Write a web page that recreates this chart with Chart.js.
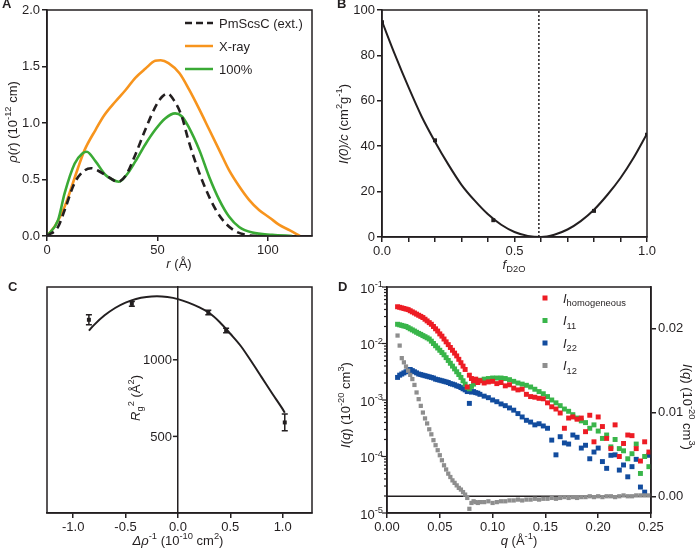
<!DOCTYPE html>
<html>
<head>
<meta charset="utf-8">
<script src="https://cdn.jsdelivr.net/npm/chart.js@4.4.0/dist/chart.umd.min.js"></script>
<style>
body { margin: 0; background: #fff; }
#wrap { position: relative; width: 700px; height: 554px; overflow: hidden; background: #fff; }
canvas { position: absolute; }
</style>
</head>
<body>
<div id="wrap">
<canvas id="chartA" width="350" height="277" style="left:0;top:0"></canvas>
<canvas id="chartB" width="375" height="277" style="left:325px;top:0"></canvas>
<canvas id="chartC" width="350" height="277" style="left:0;top:277px"></canvas>
<canvas id="chartD" width="375" height="277" style="left:325px;top:277px"></canvas>
</div>
<script>
// ---- panel A: p(r) distributions ----
const rPm = [0, 5, 8, 12.5, 17, 20, 23, 28, 32, 35.5, 40, 44.5, 49, 52, 54.5, 57.5, 61, 64, 68, 72, 76.5, 81, 85.5, 90, 95];
const pPm = [0, 0.08, 0.23, 0.47, 0.58, 0.60, 0.58, 0.52, 0.48, 0.53, 0.72, 0.94, 1.14, 1.23, 1.26, 1.20, 1.06, 0.85, 0.61, 0.41, 0.23, 0.11, 0.04, 0.01, 0];
const rXray = [0, 4, 8, 14, 17, 22, 26, 31, 35.5, 40, 44.5, 49, 51.5, 55, 60, 64.5, 69, 73.5, 78, 82.5, 87, 91.5, 96, 101, 105, 110, 114.5];
const pXray = [0, 0.1, 0.26, 0.60, 0.76, 0.94, 1.07, 1.19, 1.29, 1.40, 1.48, 1.55, 1.555, 1.53, 1.44, 1.29, 1.12, 0.94, 0.76, 0.58, 0.44, 0.32, 0.23, 0.16, 0.10, 0.05, 0];
const r100 = [0, 5, 8, 12.5, 16, 18, 22, 26.5, 29.5, 32.5, 36, 40, 44.5, 49, 53.5, 58, 61, 64, 69, 73.5, 78, 82.5, 87, 93, 102, 111];
const p100 = [0, 0.14, 0.38, 0.64, 0.73, 0.746, 0.66, 0.54, 0.50, 0.48, 0.54, 0.66, 0.81, 0.94, 1.04, 1.085, 1.06, 0.97, 0.76, 0.52, 0.32, 0.17, 0.08, 0.03, 0.01, 0];
const legendA = ['PmScsC (ext.)', 'X-ray', '100%'];

// ---- panel B: contrast match ----
const fFit = [0, 0.05, 0.1, 0.15, 0.2, 0.25, 0.3, 0.35, 0.4, 0.45, 0.5, 0.55, 0.6, 0.65, 0.7, 0.75, 0.8, 0.85, 0.9, 0.95, 1.0];
const iFit = [95, 80, 66, 53, 42, 32, 23, 16, 10, 5.4, 2.2, 0.5, 0, 1, 3.3, 7, 12, 18.5, 26, 35, 45.5];
const fPts = [0, 0.2, 0.42, 0.8, 1.0];
const iPts = [94.6, 42.6, 7.4, 11.5, 45.1];
const fMatchX = [0.592, 0.592];
const fMatchY = [0, 100];

// ---- panel C: Stuhrmann plot ----
const dRho = [-0.85, -0.44, 0.29, 0.46, 1.02];
const rg2 = [1261, 1365, 1309, 1191, 591];
const rg2Err = [33, 15, 15, 15, 55];
const dFit = [-0.85, -0.8, -0.7, -0.6, -0.5, -0.4, -0.3, -0.2, -0.1, 0, 0.1, 0.2, 0.3, 0.4, 0.5, 0.6, 0.7, 0.8, 0.9, 1.0, 1.02];
const rgFit = [1190, 1228, 1290, 1338, 1373, 1397, 1410, 1414, 1409, 1396, 1373, 1343, 1305, 1245, 1170, 1090, 990, 885, 780, 678, 655];
const rgTicks = [500, 1000];

// ---- panel D: decomposed scattering ----
const qD = [0.010, 0.012, 0.014, 0.016, 0.018, 0.020, 0.022, 0.024, 0.026, 0.028,
  0.030, 0.032, 0.034, 0.036, 0.038, 0.040, 0.042, 0.044, 0.046, 0.048,
  0.050, 0.052, 0.054, 0.056, 0.058, 0.060, 0.062, 0.064, 0.066, 0.068,
  0.070, 0.072, 0.074, 0.076, 0.078, 0.080, 0.082, 0.084, 0.086, 0.088,
  0.092, 0.096, 0.100, 0.104, 0.108, 0.112, 0.116, 0.120, 0.124, 0.128,
  0.132, 0.136, 0.140, 0.144, 0.148, 0.152, 0.156, 0.160, 0.164, 0.168,
  0.172, 0.176, 0.180, 0.184, 0.188, 0.192, 0.196, 0.200, 0.204, 0.208,
  0.212, 0.216, 0.220, 0.224, 0.228, 0.232, 0.236, 0.240, 0.244, 0.248];
const iHom = [0.0447, 0.0437, 0.0427, 0.0417, 0.0407, 0.0398, 0.0380, 0.0363, 0.0347, 0.0331,
  0.0316, 0.0302, 0.0288, 0.0269, 0.0251, 0.0234, 0.0219, 0.0200, 0.0182, 0.0166,
  0.0148, 0.0135, 0.0120, 0.0107, 0.00955, 0.00851, 0.00759, 0.00676, 0.00603, 0.00525,
  0.00457, 0.00398, 0.00347, 0.00170, 0.00275, 0.00240, 0.00219, 0.00234, 0.00204, 0.00219,
  0.00200, 0.00209, 0.00214, 0.00195, 0.00204, 0.00178, 0.00186, 0.00162, 0.00151, 0.00155,
  0.00126, 0.00115, 0.00112, 0.00107, 0.00105, 0.000891, 0.000759, 0.000692, 0.000589, 0.000316,
  0.000479, 0.000501, 0.000457, 0.000479, 0.000275, 0.000537, 0.000182, 0.000501, 0.000339, 0.000209,
  0.000138, 0.000363, 0.000100, 0.000170, 0.000240, 0.000234, 0.000138, 0.0000832, 0.000182, 0.000120];
const i11 = [0.0219, 0.0214, 0.0209, 0.0204, 0.0200, 0.0191, 0.0182, 0.0174, 0.0166, 0.0158,
  0.0151, 0.0145, 0.0138, 0.0132, 0.0126, 0.0120, 0.0110, 0.0100, 0.00912, 0.00832,
  0.00759, 0.00692, 0.00631, 0.00562, 0.00501, 0.00447, 0.00398, 0.00355, 0.00316, 0.00282,
  0.00251, 0.00219, 0.00191, 0.00166, 0.00158, 0.00174, 0.00191, 0.00209, 0.00214, 0.00224,
  0.00234, 0.00240, 0.00245, 0.00245, 0.00245, 0.00240, 0.00229, 0.00214, 0.00200, 0.00191,
  0.00182, 0.00170, 0.00155, 0.00141, 0.00129, 0.00115, 0.00100, 0.000891, 0.000794, 0.000692,
  0.000631, 0.000550, 0.000479, 0.000427, 0.000398, 0.000316, 0.000363, 0.000282, 0.000209, 0.000240,
  0.000148, 0.000200, 0.000138, 0.000126, 0.0000912, 0.000112, 0.000166, 0.0000501, 0.000100, 0.0000661];
const i22 = [0.00251, 0.00275, 0.00288, 0.00302, 0.00316, 0.00331, 0.00347, 0.00331, 0.00316, 0.00302,
  0.00288, 0.00282, 0.00275, 0.00269, 0.00263, 0.00257, 0.00251, 0.00245, 0.00234, 0.00229,
  0.00224, 0.00219, 0.00214, 0.00209, 0.00204, 0.00195, 0.00191, 0.00186, 0.00178, 0.00174,
  0.00166, 0.00158, 0.00151, 0.00141, 0.000871, 0.00138, 0.00141, 0.00135, 0.00132, 0.00126,
  0.00117, 0.00110, 0.00100, 0.000933, 0.000851, 0.000794, 0.000724, 0.000661, 0.000575, 0.000501,
  0.000437, 0.000407, 0.000363, 0.000380, 0.000347, 0.000316, 0.000195, 0.000107, 0.000224, 0.000174,
  0.000166, 0.000240, 0.000219, 0.000141, 0.000158, 0.0000912, 0.000120, 0.000141, 0.0000813, 0.0000617,
  0.000105, 0.000107, 0.0000575, 0.0000708, 0.0000437, 0.0000661, 0.0000891, 0.0000288, 0.0000234, 0.000105];
// I12 is read on the right-hand linear axis
const i12 = [0.0192, 0.0180, 0.0165, 0.0160, 0.0155, 0.0150, 0.0145, 0.0140, 0.0133, 0.0124,
  0.0116, 0.0108, 0.0100, 0.0093, 0.0087, 0.0080, 0.0074, 0.0067, 0.0061, 0.0055,
  0.0049, 0.0043, 0.0037, 0.0032, 0.0027, 0.0023, 0.0019, 0.0016, 0.0013, 0.0010,
  0.0008, 0.0005, 0.0002, -0.0002, -0.0015, -0.0008, -0.0006, -0.0007, -0.0008, -0.0007,
  -0.0007, -0.0006, -0.0008, -0.0007, -0.0006, -0.0006, -0.0005, -0.0005, -0.0004, -0.0005,
  -0.0004, -0.0004, -0.0003, -0.0004, -0.0003, -0.0003, -0.0002, -0.0003, -0.0002, -0.0001,
  -0.0002, -0.0001, -0.0002, -0.0001, -0.0001, 0.0000, -0.0001, 0.0000, -0.0001, 0.0000,
  0.0000, -0.0001, 0.0000, 0.0001, 0.0000, 0.0000, 0.0001, 0.0001, 0.0001, 0.0001];
const zeroX = [0, 0.25];
const zeroY = [0, 0];
const logTicks = [1e-5, 1e-4, 1e-3, 1e-2, 1e-1];
const logTickExp = ['-5', '-4', '-3', '-2', '-1'];

const FONT = '"Liberation Sans", Arial, Helvetica, sans-serif';
const INK = '#231f20';
const ORANGE = '#f7941d';
const GREEN_LINE = '#3aaa35';
const RED = '#ed1c24';
const GREEN = '#39b54a';
const BLUE = '#124c9e';
const GRAY = '#8e8e8e';

Chart.defaults.font.family = FONT;
Chart.defaults.font.size = 13;
Chart.defaults.color = INK;
Chart.defaults.animation = false;
Chart.defaults.plugins.legend.display = false;
Chart.defaults.plugins.tooltip.enabled = false;

function pts(xs, ys) {
    return xs.map(function(x, i) { return {x: x, y: ys[i]}; });
}

// draws text made of pieces: style 'i' italic, '^' superscript, '_' subscript, 'b' bold
function drawRich(ctx, parts, x, y, opts) {
    opts = opts || {};
    const size = opts.size || 13;
    ctx.save();
    ctx.translate(x, y);
    ctx.rotate(opts.rotate || 0);
    ctx.fillStyle = INK;
    ctx.textBaseline = 'alphabetic';
    ctx.textAlign = 'left';
    let total = 0;
    const segs = parts.map(function(p) {
        const st = p[1] || '';
        const small = st.indexOf('^') >= 0 || st.indexOf('_') >= 0;
        const fs = small ? size * 0.72 : size;
        const font = (st.indexOf('i') >= 0 ? 'italic ' : '') + (st.indexOf('b') >= 0 ? 'bold ' : '') + fs + 'px ' + FONT;
        ctx.font = font;
        const w = ctx.measureText(p[0]).width;
        const dy = st.indexOf('^') >= 0 ? -size * 0.4 : (st.indexOf('_') >= 0 ? size * 0.28 : 0);
        total += w;
        return {t: p[0], font: font, w: w, dy: dy};
    });
    let cx = opts.align === 'right' ? -total : (opts.align === 'left' ? 0 : -total / 2);
    const base = size * 0.36;
    segs.forEach(function(s) {
        ctx.font = s.font;
        ctx.fillText(s.t, cx, base + s.dy);
        cx += s.w;
    });
    ctx.restore();
}

function drawBox(ctx, a) {
    ctx.save();
    ctx.strokeStyle = INK;
    ctx.lineWidth = 1.5;
    ctx.strokeRect(a.left, a.top, a.right - a.left, a.bottom - a.top);
    ctx.restore();
}

function letter(ctx, t, x, y) {
    ctx.save();
    ctx.font = 'bold 13px ' + FONT;
    ctx.fillStyle = INK;
    ctx.textBaseline = 'alphabetic';
    ctx.fillText(t, x, y);
    ctx.restore();
}

function linAxis(min, max, step, fmt, extra) {
    const o = {
        type: 'linear',
        min: min,
        max: max,
        grid: {display: true, drawOnChartArea: false, drawTicks: true, tickLength: 5, color: INK, lineWidth: 1.5},
        border: {display: true, color: INK, width: 1.5},
        ticks: {stepSize: step, includeBounds: false, autoSkip: false, maxRotation: 0, padding: 2, color: INK, font: {size: 13},
            callback: fmt}
    };
    return Object.assign(o, extra || {});
}

function fixed(n) {
    return function(v) { return Math.abs(v) < 1e-9 ? (0).toFixed(n) : v.toFixed(n); };
}

// ---------- A ----------
const plugA = {
    id: 'plugA',
    afterDraw: function(chart) {
        const ctx = chart.ctx;
        drawBox(ctx, chart.chartArea);
        drawRich(ctx, [['ρ', 'i'], ['(', ''], ['r', 'i'], [') (10', ''], ['-12', '^'], [' cm)', '']], 12, 122, {rotate: -Math.PI / 2});
        drawRich(ctx, [['r', 'i'], [' (Å)', '']], 179, 263);
        const cols = [INK, ORANGE, GREEN_LINE];
        const rows = [23, 46, 69];
        ctx.save();
        legendA.forEach(function(name, i) {
            ctx.strokeStyle = cols[i];
            ctx.lineWidth = 2.5;
            ctx.setLineDash(i === 0 ? [7, 4] : []);
            ctx.beginPath();
            ctx.moveTo(185, rows[i]);
            ctx.lineTo(213, rows[i]);
            ctx.stroke();
            drawRich(ctx, [[name, '']], 219, rows[i], {align: 'left'});
        });
        ctx.restore();
        letter(ctx, 'A', 2, 8);
    }
};

new Chart(document.getElementById('chartA'), {
    type: 'scatter',
    data: {
        datasets: [
            {data: pts(rPm, pPm), showLine: true, borderColor: INK, borderWidth: 2.6, borderDash: [8, 5], pointRadius: 0, cubicInterpolationMode: 'monotone', order: 0},
            {data: pts(rXray, pXray), showLine: true, borderColor: ORANGE, borderWidth: 2.6, pointRadius: 0, cubicInterpolationMode: 'monotone', order: 2},
            {data: pts(r100, p100), showLine: true, borderColor: GREEN_LINE, borderWidth: 2.6, pointRadius: 0, cubicInterpolationMode: 'monotone', order: 1}
        ]
    },
    options: {
        responsive: false,
        layout: {padding: {top: 10, right: 38, left: 0, bottom: 0}},
        scales: {
            x: linAxis(0, 120, 50, fixed(0), {afterFit: function(s) { s.height = 41; }}),
            y: linAxis(0, 2.0, 0.5, fixed(1), {afterFit: function(s) { s.width = 47; }})
        }
    },
    plugins: [plugA]
});

// ---------- B ----------
const plugB = {
    id: 'plugB',
    afterDraw: function(chart) {
        const ctx = chart.ctx;
        drawBox(ctx, chart.chartArea);
        drawRich(ctx, [['I(0)/c', 'i'], [' (cm', ''], ['2', '^'], ['g', ''], ['-1', '^'], [')', '']], 18, 124, {rotate: -Math.PI / 2});
        drawRich(ctx, [['f', 'i'], ['D2O', '_']], 189, 264);
        letter(ctx, 'B', 12, 8);
    }
};

new Chart(document.getElementById('chartB'), {
    type: 'scatter',
    data: {
        datasets: [
            {data: pts(fMatchX, fMatchY), showLine: true, borderColor: INK, borderWidth: 1.5, borderDash: [2, 2], pointRadius: 0, order: 2},
            {data: pts(fFit, iFit), showLine: true, borderColor: INK, borderWidth: 2, pointRadius: 0, cubicInterpolationMode: 'monotone', order: 1},
            {data: pts(fPts, iPts), showLine: false, pointStyle: 'rect', pointRadius: 2.8, pointBorderWidth: 0, pointBackgroundColor: INK, order: 0}
        ]
    },
    options: {
        responsive: false,
        layout: {padding: {top: 10, right: 53, left: 0, bottom: 0}},
        scales: {
            x: linAxis(0, 1, 0.1, function(v) {
                return Math.abs(v * 2 - Math.round(v * 2)) < 1e-6 ? v.toFixed(1) : '';
            }, {afterFit: function(s) { s.height = 40; }}),
            y: linAxis(0, 100, 20, fixed(0), {afterFit: function(s) { s.width = 57; }})
        }
    },
    plugins: [plugB]
});

// ---------- C ----------
const plugC = {
    id: 'plugC',
    afterDatasetsDraw: function(chart) {
        const ctx = chart.ctx;
        const sx = chart.scales.x, sy = chart.scales.y;
        ctx.save();
        ctx.strokeStyle = INK;
        ctx.lineWidth = 1.5;
        dRho.forEach(function(d, i) {
            const px = sx.getPixelForValue(d);
            const y1 = sy.getPixelForValue(rg2[i] - rg2Err[i]);
            const y2 = sy.getPixelForValue(rg2[i] + rg2Err[i]);
            ctx.beginPath();
            ctx.moveTo(px, y1); ctx.lineTo(px, y2);
            ctx.moveTo(px - 3, y1); ctx.lineTo(px + 3, y1);
            ctx.moveTo(px - 3, y2); ctx.lineTo(px + 3, y2);
            ctx.stroke();
        });
        ctx.restore();
    },
    afterDraw: function(chart) {
        const ctx = chart.ctx;
        const sx = chart.scales.x, sy = chart.scales.y;
        drawBox(ctx, chart.chartArea);
        // ticks and labels of the y axis that sits at x = 0
        const x0 = sx.getPixelForValue(0);
        ctx.save();
        ctx.strokeStyle = INK;
        ctx.lineWidth = 1.5;
        rgTicks.forEach(function(v) {
            const py = sy.getPixelForValue(v);
            ctx.beginPath();
            ctx.moveTo(x0 - 5, py);
            ctx.lineTo(x0, py);
            ctx.stroke();
            drawRich(ctx, [[String(v), '']], x0 - 6, py, {align: 'right'});
        });
        ctx.restore();
        drawRich(ctx, [['R', 'i'], ['g', '_'], ['2', '^'], [' (Å', ''], ['2', '^'], [')', '']], 135, 121, {rotate: -Math.PI / 2});
        drawRich(ctx, [['Δρ', 'i'], ['-1', '^'], [' (10', ''], ['-10', '^'], [' cm', ''], ['2', '^'], [')', '']], 178, 263);
        letter(ctx, 'C', 8, 14);
    }
};

new Chart(document.getElementById('chartC'), {
    type: 'scatter',
    data: {
        datasets: [
            {data: pts(dFit, rgFit), showLine: true, borderColor: INK, borderWidth: 2, pointRadius: 0, cubicInterpolationMode: 'monotone', order: 1},
            {data: pts(dRho, rg2), showLine: false, pointStyle: 'rect', pointRadius: 2.8, pointBorderWidth: 0, pointBackgroundColor: INK, order: 0}
        ]
    },
    options: {
        responsive: false,
        layout: {padding: {top: 10, right: 38, left: 47, bottom: 0}},
        scales: {
            x: linAxis(-1.25, 1.28, 0.5, fixed(1), {afterFit: function(s) { s.height = 41; }}),
            y: {
                type: 'linear', min: 0, max: 1475, position: {x: 0},
                grid: {display: false},
                border: {display: true, color: INK, width: 1.5},
                ticks: {display: false}
            }
        }
    },
    plugins: [plugC]
});

// ---------- D ----------
const legendD = [
    {sub: 'homogeneous', color: RED},
    {sub: '11', color: GREEN},
    {sub: '22', color: BLUE},
    {sub: '12', color: GRAY}
];

const plugD = {
    id: 'plugD',
    afterDraw: function(chart) {
        const ctx = chart.ctx;
        const a = chart.chartArea;
        const sy = chart.scales.y;
        drawBox(ctx, a);
        // log axis ticks and labels
        ctx.save();
        ctx.strokeStyle = INK;
        ctx.lineWidth = 1.2;
        logTicks.forEach(function(t, i) {
            for (let k = 1; k <= 9; k++) {
                const v = t * k;
                if (v > 0.1000001) break;
                const py = sy.getPixelForValue(v);
                const len = k === 1 ? 5 : 3;
                ctx.beginPath();
                ctx.moveTo(a.left - len, py);
                ctx.lineTo(a.left, py);
                ctx.stroke();
            }
            drawRich(ctx, [['10', ''], [logTickExp[i], '^']], a.left - 4, sy.getPixelForValue(t) + 1, {align: 'right'});
        });
        ctx.restore();
        drawRich(ctx, [['I', 'i'], ['(', ''], ['q', 'i'], [') (10', ''], ['-20', '^'], [' cm', ''], ['3', '^'], [')', '']], 20, 128, {rotate: -Math.PI / 2});
        drawRich(ctx, [['I', 'i'], ['(', ''], ['q', 'i'], [') (10', ''], ['-20', '^'], [' cm', ''], ['3', '^'], [')', '']], 363, 130, {rotate: Math.PI / 2});
        drawRich(ctx, [['q', 'i'], [' (Å', ''], ['-1', '^'], [')', '']], 194, 263);
        // legend
        const rows = [21, 43.5, 66, 88.5];
        legendD.forEach(function(it, i) {
            ctx.fillStyle = it.color;
            ctx.fillRect(217.5, rows[i] - 2.5, 5, 5);
            drawRich(ctx, [['I', 'i'], [it.sub, '_']], 238, rows[i], {align: 'left'});
        });
        letter(ctx, 'D', 13, 14);
    }
};

function sq(color, radius, order, yAxis, ys) {
    return {data: pts(qD, ys), yAxisID: yAxis, showLine: false, pointStyle: 'rect', pointRadius: radius,
        pointBorderWidth: 0, pointBackgroundColor: color, order: order};
}

new Chart(document.getElementById('chartD'), {
    type: 'scatter',
    data: {
        datasets: [
            {data: pts(zeroX, zeroY), yAxisID: 'y2', showLine: true, borderColor: INK, borderWidth: 1.5, pointRadius: 0, order: 5},
            sq(BLUE, 3.5, 3, 'y', i22),
            sq(GREEN, 3.5, 2, 'y', i11),
            sq(RED, 3.5, 1, 'y', iHom),
            sq(GRAY, 3, 0, 'y2', i12)
        ]
    },
    options: {
        responsive: false,
        layout: {padding: {top: 10, right: 0, left: 0, bottom: 0}},
        scales: {
            x: linAxis(0, 0.25, 0.05, fixed(2), {afterFit: function(s) { s.height = 41; }}),
            y: {
                type: 'logarithmic', min: 1e-5, max: 1e-1, position: 'left',
                grid: {display: false},
                border: {display: true, color: INK, width: 1.5},
                ticks: {display: false},
                afterFit: function(s) { s.width = 62; }
            },
            y2: linAxis(-0.002, 0.025, 0.01, fixed(2), {
                position: 'right',
                afterFit: function(s) { s.width = 49; }
            })
        }
    },
    plugins: [plugD]
});
</script>
</body>
</html>
